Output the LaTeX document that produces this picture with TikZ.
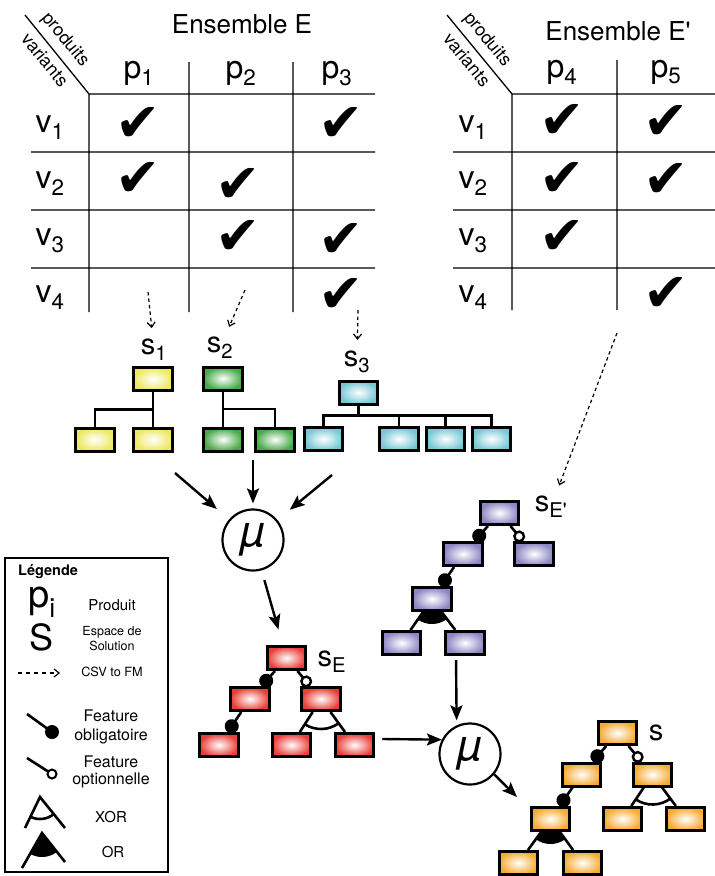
\documentclass[tikz,border=0pt]{standalone}
\usepackage{fontspec}
\setmainfont{TeX Gyre Heros}
\newfontfamily\chkfont{DejaVu Sans}
\usetikzlibrary{arrows.meta,calc,backgrounds}
\definecolor{yel}{RGB}{238,232,96}
\definecolor{grn}{RGB}{72,168,72}
\definecolor{cyn}{RGB}{118,200,214}
\definecolor{pur}{RGB}{140,134,196}
\definecolor{redf}{RGB}{234,62,56}
\definecolor{org}{RGB}{246,170,52}
% arc of an xor group, fan of an or group
\newcommand{\xorarc}[3]{%
  \draw[edge] let \p0=(#1.center), \p1=(#2.center), \p2=(#3.center),
      \n1={atan2(\y1-\y0,\x1-\x0)}, \n2={atan2(\y2-\y0,\x2-\x0)}
    in (\p0) ++(\n1:30pt) arc[start angle=\n1, end angle=\n2, radius=30pt];}
\newcommand{\orfan}[3]{%
  \begin{pgfonlayer}{background}
  \fill let \p0=(#1.center), \p1=(#2.center), \p2=(#3.center),
      \n1={atan2(\y1-\y0,\x1-\x0)}, \n2={atan2(\y2-\y0,\x2-\x0)}
    in (\p0) -- ++(\n1:25pt) arc[start angle=\n1, end angle=\n2, radius=25pt] -- cycle;
  \end{pgfonlayer}}
\begin{document}
\begin{tikzpicture}[x=1pt,y=-1pt,
    grid/.style={line width=1.3pt},
    hd/.style={font=\fontsize{32}{32}\selectfont, inner sep=0pt, anchor=base},
    ens/.style={font=\fontsize{26}{28}\selectfont, inner sep=0pt, anchor=base},
    diag/.style={font=\fontsize{18}{18}\selectfont, inner sep=0pt, rotate=-50.6},
    chk/.style={font=\chkfont\fontsize{54}{54}\selectfont, inner sep=0pt},
    lab/.style={font=\fontsize{29}{29}\selectfont, inner sep=1pt},
    feat/.style={draw, line width=3pt, minimum width=38.5pt, minimum height=23pt,
      inner sep=0pt, shading=radial, inner color=white, outer color=#1},
    edge/.style={line width=2.6pt},
    mand/.style={edge, -{Circle[length=14pt, width=14pt]}},
    opt/.style={edge, -{Circle[open, length=12pt, width=12pt, line width=2.4pt]}},
    arr/.style={line width=2.4pt, -{Stealth[length=15pt, width=12pt, inset=3pt]}},
    csv/.style={line width=1.2pt, dash pattern=on 3.5pt off 3pt, shorten >=10pt,
      -{Straight Barb[length=5pt, width=8pt]}},
    mu/.style={circle, draw, line width=2.2pt, minimum size=61pt, inner sep=0pt,
      font=\fontsize{44}{44}\selectfont\itshape},
    lg/.style={font=\fontsize{15}{17}\selectfont, align=center, inner sep=0pt}]
  \useasboundingbox (0,0) rectangle (715,876);

  % ensemble E
  \draw[grid] (25,15) -- (89,94) -- (375,94)
    (31,152) -- (375,152) (31,210) -- (375,210) (31,268) -- (375,268)
    (89,94) -- (89,312) (189,62) -- (189,312) (293,62) -- (293,312);
  \draw (242,33) node[ens](ensE){Ensemble E};
  \draw (65,40) node[diag](prodE){produits};
  \draw (45,60) node[diag](varE){variants};
  \draw (139,78) node[hd](p1){p\textsubscript{1}};
  \draw (241,78) node[hd](p2){p\textsubscript{2}};
  \draw (337,78) node[hd](p3){p\textsubscript{3}};
  \draw (50,132) node[hd](vE1){v\textsubscript{1}};
  \draw (50,188) node[hd](vE2){v\textsubscript{2}};
  \draw (50,245) node[hd](vE3){v\textsubscript{3}};
  \draw (50,302) node[hd](vE4){v\textsubscript{4}};
  \draw (138,124) node[chk](cE11){✔};
  \draw (341,124) node[chk](cE13){✔};
  \draw (138,179) node[chk](cE21){✔};
  \draw (238,185) node[chk](cE22){✔};
  \draw (238,237) node[chk](cE32){✔};
  \draw (341,240) node[chk](cE33){✔};
  \draw (341,295) node[chk](cE43){✔};

  % ensemble E'
  \draw[grid] (447,15) -- (512,94) -- (715,94)
    (453,152) -- (715,152) (453,210) -- (715,210) (453,268) -- (715,268)
    (512,94) -- (512,310) (617,60) -- (617,310);
  \draw (618,40) node[ens](ensF){Ensemble E\textquotesingle};
  \draw (487,40) node[diag](prodF){produits};
  \draw (467,60) node[diag](varF){variants};
  \draw (562,77) node[hd](p4){p\textsubscript{4}};
  \draw (666,77) node[hd](p5){p\textsubscript{5}};
  \draw (473,132) node[hd](vF1){v\textsubscript{1}};
  \draw (473,188) node[hd](vF2){v\textsubscript{2}};
  \draw (473,245) node[hd](vF3){v\textsubscript{3}};
  \draw (473,302) node[hd](vF4){v\textsubscript{4}};
  \draw (562,121) node[chk](cF14){✔};
  \draw (666,122) node[chk](cF15){✔};
  \draw (562,179) node[chk](cF24){✔};
  \draw (666,180) node[chk](cF25){✔};
  \draw (562,237) node[chk](cF34){✔};
  \draw (666,294) node[chk](cF45){✔};

  % s1, s2, s3
  \draw (154,350) node[lab](s1){s\textsubscript{1}};
  \draw (220,348) node[lab](s2){s\textsubscript{2}};
  \draw (357,362) node[lab](s3){s\textsubscript{3}};
  \draw (153,379) node[feat=yel](yel1){};
  \draw (95,439.5) node[feat=yel](yel2){};
  \draw (153,439.5) node[feat=yel](yel3){};
  \draw (223,378.5) node[feat=grn](grn1){};
  \draw (223,439.5) node[feat=grn](grn2){};
  \draw (275,439.5) node[feat=grn](grn3){};
  \draw (358.5,392.5) node[feat=cyn](cyn1){};
  \draw (323.5,439) node[feat=cyn](cyn2){};
  \draw (399,439) node[feat=cyn](cyn3){};
  \draw (445.5,439) node[feat=cyn](cyn4){};
  \draw (491.5,439) node[feat=cyn](cyn5){};
  \coordinate (cynb) at ($(cyn1.south)!.5!(cyn1.south |- cyn2.north)$);
  \draw[edge]
    (yel1) -- (yel3)
    (yel2.north) |- ($(yel1.south)!.5!(yel3.north)$)
    (grn1) -- (grn2)
    (grn3.north) |- ($(grn1.south)!.5!(grn2.north)$)
    (cyn1.south) -- (cynb)
    (cyn2.north) |- (cynb)
    (cyn3.north) |- (cynb)
    (cyn4.north) |- (cynb)
    (cyn5.north) |- (cynb);

  % CSV to FM
  \coordinate (d1) at (148,292);
  \coordinate (d2) at (245,290);
  \coordinate (d3) at (358,310);
  \coordinate (d4) at (617,333);
  \draw[csv] (d1) -- (s1);
  \draw[csv] (d2) -- (s2);
  \draw[csv] (d3) -- (s3);

  % fusion of s1, s2, s3
  \draw (253,540) node[mu](mu1){µ};
  \coordinate (a1) at (175,473);
  \coordinate (a2) at (253,460);
  \coordinate (a3) at (332,475);
  \draw[arr, shorten >=16pt] (a1) -- (mu1);
  \draw[arr, shorten >=5pt] (a2) -- (mu1);
  \draw[arr, shorten >=16pt] (a3) -- (mu1);

  % sE
  \draw (332,662) node[lab](sE){s\textsubscript{E}};
  \draw (286.5,658) node[feat=redf](red1){};
  \draw (250,699) node[feat=redf](red2){};
  \draw (321,699) node[feat=redf](red3){};
  \draw (219,745) node[feat=redf](red4){};
  \draw (291.5,745) node[feat=redf](red5){};
  \draw (354.5,745) node[feat=redf](red6){};
  \draw[arr, shorten <=10pt, shorten >=16pt] (mu1) -- (red1);
  \draw[mand] (red1) -- (red2);
  \draw[opt] (red1) -- (red3);
  \draw[mand] (red2) -- (red4);
  \draw[edge] (red3) -- (red5) (red3) -- (red6);
  \xorarc{red3}{red5}{red6}

  % sE'
  \draw (551,507) node[lab](sF){s\textsubscript{E\textquotesingle}};
  \draw[csv] (d4) -- (sF);
  \draw (499.5,513) node[feat=pur](pur1){};
  \draw (463,554) node[feat=pur](pur2){};
  \draw (534,554) node[feat=pur](pur3){};
  \draw (432,599) node[feat=pur](pur4){};
  \draw (401.5,643) node[feat=pur](pur5){};
  \draw (465,643) node[feat=pur](pur6){};
  \draw[mand] (pur1) -- (pur2);
  \draw[opt] (pur1) -- (pur3);
  \draw[mand] (pur2) -- (pur4);
  \draw[edge] (pur4) -- (pur5) (pur4) -- (pur6);
  \orfan{pur4}{pur5}{pur6}

  % fusion of sE and sE'
  \draw (470,754) node[mu](mu2){µ};
  \coordinate (mu2out) at (517,797);
  \draw[arr] ([xshift=7pt,yshift=6pt]red6.east) -- (mu2.153);
  \draw[arr, shorten <=4pt, shorten >=5pt] ([xshift=-9pt]pur6.south) -- (mu2.115);
  \draw[arr] (mu2.-40) -- (mu2out);

  % s
  \draw (656,733) node[lab](sS){s};
  \draw (617.5,733) node[feat=org](org1){};
  \draw (581.5,774.5) node[feat=org](org2){};
  \draw (652.5,774.5) node[feat=org](org3){};
  \draw (550.5,819) node[feat=org](org4){};
  \draw (622.5,819) node[feat=org](org5){};
  \draw (685.5,819) node[feat=org](org6){};
  \draw (518.5,863) node[feat=org](org7){};
  \draw (582.5,863) node[feat=org](org8){};
  \draw[mand] (org1) -- (org2);
  \draw[opt] (org1) -- (org3);
  \draw[mand] (org2) -- (org4);
  \draw[edge] (org3) -- (org5) (org3) -- (org6) (org4) -- (org7) (org4) -- (org8);
  \xorarc{org3}{org5}{org6}
  \orfan{org4}{org7}{org8}

  % legende
  \draw[line width=2pt] (5,558) rectangle (168,872);
  \draw (18,572) node[anchor=west, inner sep=0pt,
    font=\fontsize{14.5}{16}\selectfont\bfseries](lgT){Légende};
  \draw (42,602) node[inner sep=0pt, font=\fontsize{38}{38}\selectfont](lgP){p\textsubscript{i}};
  \draw (112,605) node[lg](lgPt){Produit};
  \draw (42,637) node[inner sep=0pt, font=\fontsize{36}{36}\selectfont](lgS){S};
  \draw (112,638.5) node[lg, font=\fontsize{12.5}{15}\selectfont](lgSt){Espace de\\Solution};
  \coordinate (lgA) at (18,673);
  \coordinate (lgB) at (60,673);
  \draw[csv, shorten >=0pt, dash pattern=on 4pt off 4pt] (lgA) -- (lgB);
  \draw (112,672) node[lg, font=\fontsize{12.7}{15}\selectfont](lgC){CSV to FM};
  \draw[edge] (27,714) -- (52,732);
  \fill (52,732) circle (7pt);
  \draw (111,726.5) node[lg, font=\fontsize{16}{19}\selectfont](lgM){Feature\\obligatoire};
  \draw[edge] (27,758) -- (52,774);
  \draw[line width=2pt, fill=white] (52,774) circle (4.5pt);
  \draw (111,771.5) node[lg, font=\fontsize{16}{17}\selectfont](lgO){Feature\\optionnelle};
  \draw[edge] (25,828) -- (40,797) -- (65,828);
  \draw[edge] (40,797) ++(-115.8:22pt) arc[start angle=-115.8, end angle=-51.1, radius=22pt];
  \draw (111,817) node[lg](lgX){XOR};
  \fill (42,833) -- ++(-119.7:24pt) arc[start angle=-119.7, end angle=-51.6, radius=24pt] -- cycle;
  \draw[edge] (22,868) -- (42,833) -- (65,862);
  \draw (113,852) node[lg](lgOr){OR};
\end{tikzpicture}
\end{document}
